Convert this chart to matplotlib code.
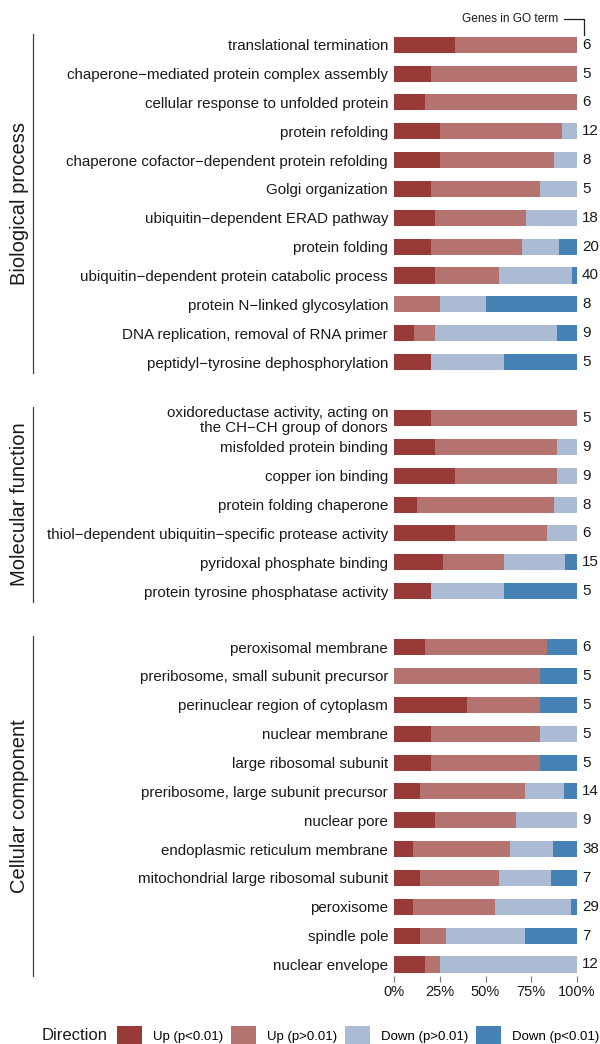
import matplotlib
matplotlib.use("Agg")
import numpy as np
import matplotlib.pyplot as plt
import matplotlib.transforms as mtransforms
from matplotlib.patches import Patch
from matplotlib.lines import Line2D

plt.rcParams["font.family"] = ["Liberation Sans", "DejaVu Sans"]

# gene counts per GO term: [up p<0.01, up p>0.01, down p>0.01, down p<0.01]
bp_terms = [
    "translational termination",
    "chaperone\u2212mediated protein complex assembly",
    "cellular response to unfolded protein",
    "protein refolding",
    "chaperone cofactor\u2212dependent protein refolding",
    "Golgi organization",
    "ubiquitin\u2212dependent ERAD pathway",
    "protein folding",
    "ubiquitin\u2212dependent protein catabolic process",
    "protein N\u2212linked glycosylation",
    "DNA replication, removal of RNA primer",
    "peptidyl\u2212tyrosine dephosphorylation",
]
bp_counts = [
    [2, 4, 0, 0], [1, 4, 0, 0], [1, 5, 0, 0], [3, 8, 1, 0],
    [2, 5, 1, 0], [1, 3, 1, 0], [4, 9, 5, 0], [4, 10, 4, 2],
    [9, 14, 16, 1], [0, 2, 2, 4], [1, 1, 6, 1], [1, 0, 2, 2],
]

mf_terms = [
    "oxidoreductase activity, acting on\nthe CH\u2212CH group of donors",
    "misfolded protein binding",
    "copper ion binding",
    "protein folding chaperone",
    "thiol\u2212dependent ubiquitin\u2212specific protease activity",
    "pyridoxal phosphate binding",
    "protein tyrosine phosphatase activity",
]
mf_counts = [
    [1, 4, 0, 0], [2, 6, 1, 0], [3, 5, 1, 0], [1, 6, 1, 0],
    [2, 3, 1, 0], [4, 5, 5, 1], [1, 0, 2, 2],
]

cc_terms = [
    "peroxisomal membrane",
    "preribosome, small subunit precursor",
    "perinuclear region of cytoplasm",
    "nuclear membrane",
    "large ribosomal subunit",
    "preribosome, large subunit precursor",
    "nuclear pore",
    "endoplasmic reticulum membrane",
    "mitochondrial large ribosomal subunit",
    "peroxisome",
    "spindle pole",
    "nuclear envelope",
]
cc_counts = [
    [1, 4, 0, 1], [0, 4, 0, 1], [2, 2, 0, 1], [1, 3, 1, 0],
    [1, 3, 0, 1], [2, 8, 3, 1], [2, 4, 3, 0], [4, 20, 9, 5],
    [1, 3, 2, 1], [3, 13, 12, 1], [1, 1, 3, 2], [2, 1, 9, 0],
]

panel_names = ["Biological process", "Molecular function", "Cellular component"]
direction_labels = ["Up (p<0.01)", "Up (p>0.01)", "Down (p>0.01)", "Down (p<0.01)"]
direction_colors = ["#973A38", "#B5736F", "#AABBD3", "#4682B4"]
x_ticks = [0, 0.25, 0.5, 0.75, 1.0]
x_ticklabels = ["0%", "25%", "50%", "75%", "100%"]

panels = [(bp_terms, bp_counts), (mf_terms, mf_counts), (cc_terms, cc_counts)]

W, H = 600, 1044
fig = plt.figure(figsize=(W / 100, H / 100), dpi=100)

# layout in pixels
row = 28.85
margin = 11.0
gap = 34.0
bar_left, bar_w = 394, 183
top = 44.7 - margin

TXT = "#1a1a1a"
FS = 10.9

for k, (terms, counts) in enumerate(panels):
    n = len(terms)
    h = (n - 1) * row + 2 * margin
    ax = fig.add_axes([bar_left / W, 1 - (top + h) / H, bar_w / W, h / H])
    top += h + gap

    c = np.array(counts, dtype=float)
    totals = c.sum(axis=1)
    frac = c / totals[:, None]
    y = np.arange(n)
    left = np.zeros(n)
    for j in range(4):
        ax.barh(y, frac[:, j], left=left, height=0.555,
                color=direction_colors[j], linewidth=0)
        left += frac[:, j]

    for yi, tot in zip(y, totals):
        ax.annotate(f"{int(tot)}", (1.0, yi), xytext=(3.6, 0),
                    textcoords="offset points", ha="left", va="center",
                    fontsize=FS, color=TXT)

    m = margin / row
    ax.set_ylim(n - 1 + m, -m)
    ax.set_xlim(0, 1)
    ax.set_yticks(y)
    ax.set_yticklabels(terms, fontsize=FS, color=TXT, linespacing=1.1)
    ax.tick_params(axis="y", length=0, pad=4.3)
    for s in ax.spines.values():
        s.set_visible(False)

    if k == len(panels) - 1:
        ax.set_xticks(x_ticks)
        ax.set_xticklabels(x_ticklabels, fontsize=10.5, color=TXT)
        ax.tick_params(axis="x", length=4.3, width=0.9, color="#7f7f7f", pad=2.8)
    else:
        ax.set_xticks([])

    # facet strip: vertical rule and rotated label on the left
    trans = mtransforms.blended_transform_factory(fig.transFigure, ax.transAxes)
    ax.add_line(Line2D([33 / W, 33 / W], [0.0, 1.0], transform=trans,
                       color="#444444", linewidth=0.9, clip_on=False))
    ax.text(20 / W, 0.5, panel_names[k], transform=trans, rotation=90,
            ha="center", va="center", fontsize=14.5, color=TXT)

# header for the count column
fig.text(558 / W, 1 - 19 / H, "Genes in GO term", ha="right", va="center",
         fontsize=8.6, color=TXT)
fig.add_artist(Line2D([564 / W, 584 / W, 584 / W],
                      [1 - 19 / H, 1 - 19 / H, 1 - 35 / H],
                      transform=fig.transFigure, color="#222222", linewidth=0.9))

# legend
fig.text(42 / W, 1 - 1036 / H, "Direction", ha="left", va="center",
         fontsize=12, color=TXT)
handles = [Patch(facecolor=col, edgecolor="none", label=lab)
           for col, lab in zip(direction_colors, direction_labels)]
fig.legend(handles=handles, loc="center left",
           bbox_to_anchor=(117 / W, 1 - 1036 / H), ncol=4, frameon=False,
           fontsize=9.5, handlelength=1.9, handleheight=1.9,
           handletextpad=0.83, columnspacing=0.6, borderpad=0,
           borderaxespad=0)

fig.savefig("out.png", dpi=100)
